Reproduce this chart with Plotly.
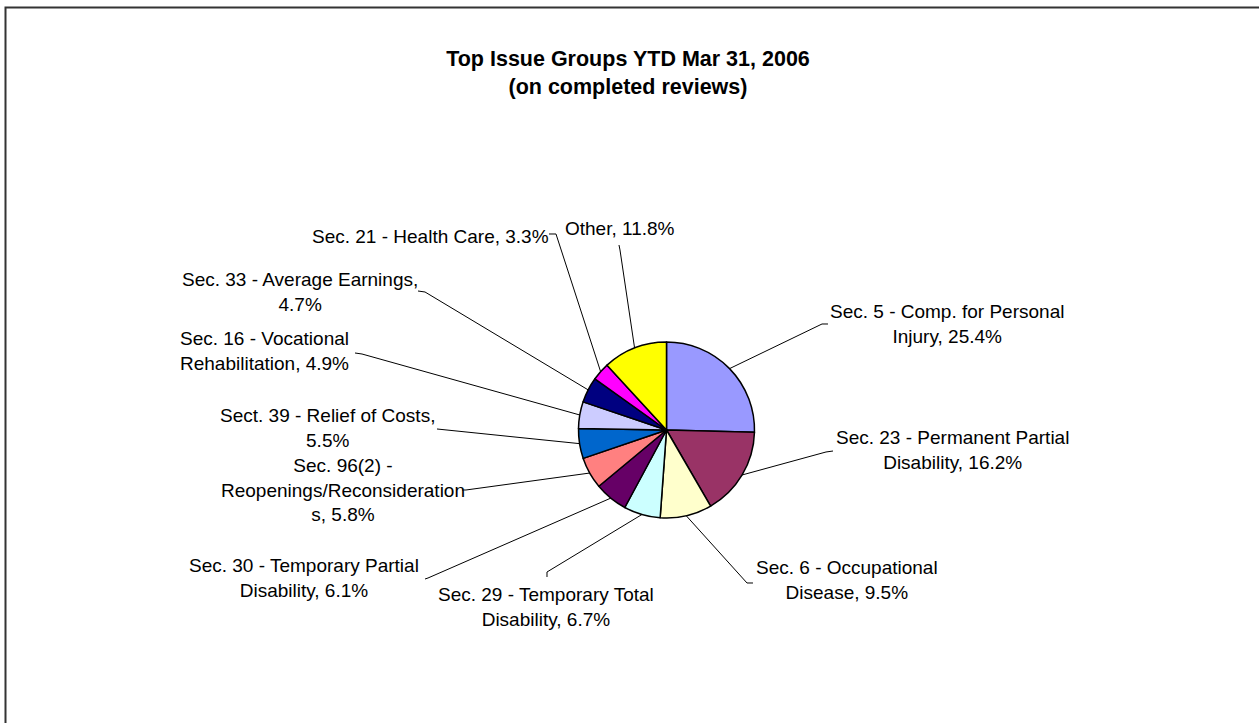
import math

import plotly.graph_objects as go

W, H = 1259, 723

CATEGORIES = [
    "Sec. 5 - Comp. for Personal Injury",
    "Sec. 23 - Permanent Partial Disability",
    "Sec. 6 - Occupational Disease",
    "Sec. 29 - Temporary Total Disability",
    "Sec. 30 - Temporary Partial Disability",
    "Sec. 96(2) - Reopenings/Reconsiderations",
    "Sect. 39 - Relief of Costs",
    "Sec. 16 - Vocational Rehabilitation",
    "Sec. 33 - Average Earnings",
    "Sec. 21 - Health Care",
    "Other",
]
SHARES = [25.4, 16.2, 9.5, 6.7, 6.1, 5.8, 5.5, 4.9, 4.7, 3.3, 11.8]
COLORS = [
    "#9999ff", "#993366", "#ffffcc", "#ccffff", "#660066", "#ff8080",
    "#0066cc", "#ccccff", "#000080", "#ff00ff", "#ffff00",
]

# label text as wrapped in the original chart
LABEL_TEXT = [
    "Sec. 5 - Comp. for Personal<br>Injury, {}%",
    "Sec. 23 - Permanent Partial<br>Disability, {}%",
    "Sec. 6 - Occupational<br>Disease, {}%",
    "Sec. 29 - Temporary Total<br>Disability, {}%",
    "Sec. 30 - Temporary Partial<br>Disability, {}%",
    "Sec. 96(2) -<br>Reopenings/Reconsideration<br>s, {}%",
    "Sect. 39 - Relief of Costs,<br>{}%",
    "Sec. 16 - Vocational<br>Rehabilitation, {}%",
    "Sec. 33 - Average Earnings,<br>{}%",
    "Sec. 21 - Health Care, {}%",
    "Other, {}%",
]

# layout (pixels): label centres and leader-line start / elbow points
LABEL_XY = [
    (947, 324), (952, 450), (847, 580), (546, 607), (304, 578), (343, 490),
    (327, 428), (264, 351), (300, 292), (430, 237), (620, 228),
]
LEADER_PTS = [
    [(828, 324), (822, 324)],
    [(833, 451), (826, 452)],
    [(753, 583), (747, 583)],
    [(547, 577), (547, 572)],
    [(425, 579), (428, 578)],
    [(462, 490), (466, 490)],
    [(437, 429), (437, 429)],
    [(355, 353), (362, 354)],
    [(418, 291), (425, 292)],
    [(549, 234), (556, 234)],
    [(619, 245), (620, 250)],
]

CX, CY, R = 666.5, 430, 88


def paper(x, y):
    return x / W, 1 - y / H


fig = go.Figure(
    go.Pie(
        labels=CATEGORIES,
        values=SHARES,
        sort=False,
        direction="clockwise",
        rotation=0,
        textinfo="none",
        hoverinfo="label+percent",
        marker={"colors": COLORS, "line": {"color": "#000000", "width": 1.5}},
        domain={
            "x": [(CX - R) / W, (CX + R) / W],
            "y": [1 - (CY + R) / H, 1 - (CY - R) / H],
        },
        showlegend=False,
    )
)

total = sum(SHARES)
shapes = [
    {
        "type": "rect", "xref": "paper", "yref": "paper",
        "x0": 5.5 / W, "x1": 1.01, "y0": -0.02, "y1": 1 - 7.5 / H,
        "line": {"color": "#333333", "width": 2},
    }
]
annotations = []
cum = 0.0
for i, share in enumerate(SHARES):
    mid = (cum + share / 2) / total * 2 * math.pi
    cum += share
    ex, ey = CX + R * math.sin(mid), CY - R * math.cos(mid)
    pts = LEADER_PTS[i] + [(ex, ey)]
    path = "M " + " L ".join("{:.5f} {:.5f}".format(*paper(px, py)) for px, py in pts)
    shapes.append({
        "type": "path", "xref": "paper", "yref": "paper", "path": path,
        "line": {"color": "#000000", "width": 1}, "layer": "below",
    })
    lx, ly = paper(*LABEL_XY[i])
    annotations.append({
        "x": lx, "y": ly, "xref": "paper", "yref": "paper",
        "text": LABEL_TEXT[i].format(share),
        "showarrow": False, "align": "center",
        "xanchor": "center", "yanchor": "middle",
        "font": {"size": 19, "color": "#000000"},
    })

fig.update_layout(
    width=W,
    height=H,
    margin={"l": 0, "r": 0, "t": 0, "b": 0},
    paper_bgcolor="#ffffff",
    plot_bgcolor="#ffffff",
    font={"family": "Liberation Sans, Arial, sans-serif", "color": "#000000"},
    title={
        "text": "<b>Top Issue Groups YTD Mar 31, 2006<br>(on completed reviews)</b>",
        "x": 628 / W, "xanchor": "center",
        "y": 1 - 66 / H, "yanchor": "middle",
        "font": {"size": 21.5, "color": "#000000"},
    },
    shapes=shapes,
    annotations=annotations,
)

fig.write_html(
    "out.html",
    config={"displayModeBar": False},
    post_script="document.body.style.margin = '0';",
)
